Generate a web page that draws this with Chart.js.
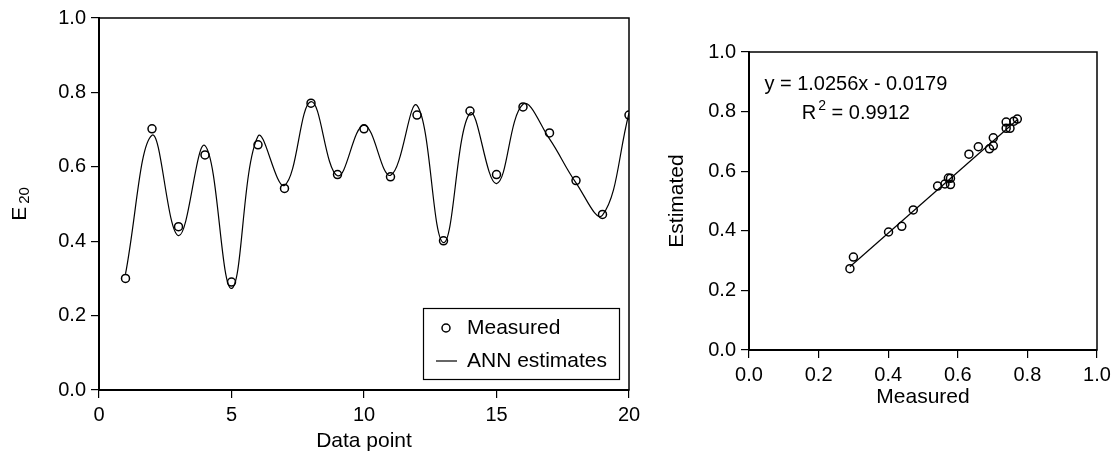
<!DOCTYPE html>
<html>
<head>
<meta charset="utf-8">
<script src="https://cdn.jsdelivr.net/npm/chart.js@4.4.1/dist/chart.umd.min.js"></script>
<style>
  body { margin: 0; background: #fff; }
  #wrap { position: relative; width: 1116px; height: 466px; }
  canvas { position: absolute; top: 0; }
</style>
</head>
<body>
<div id="wrap">
  <canvas id="series-chart" width="660" height="466" style="left:0"></canvas>
  <canvas id="scatter-chart" width="456" height="466" style="left:660px"></canvas>
</div>
<script>
// data
const dataPoints = [1, 2, 3, 4, 5, 6, 7, 8, 9, 10, 11, 12, 13, 14, 15, 16, 17, 18, 19, 20];
const measured = [0.300, 0.702, 0.439, 0.632, 0.290, 0.659, 0.542, 0.771, 0.579, 0.702,
                  0.573, 0.739, 0.401, 0.750, 0.579, 0.761, 0.691, 0.563, 0.472, 0.739];
const estimated = [0.312, 0.685, 0.415, 0.657, 0.273, 0.682, 0.550, 0.775, 0.576, 0.712,
                   0.577, 0.765, 0.396, 0.744, 0.555, 0.768, 0.675, 0.557, 0.470, 0.744];
const fitSlope = 1.0256;
const fitIntercept = -0.0179;
const fitText = 'y = 1.0256x - 0.0179';
const r2Text = '= 0.9912';
const seriesXTicks = [0, 5, 10, 15, 20];
const unitTicks = [0, 0.2, 0.4, 0.6, 0.8, 1.0];

Chart.defaults.font.family = '"Liberation Sans", Arial, sans-serif';
Chart.defaults.color = '#000';

const FONT = '"Liberation Sans", Arial, sans-serif';

const frame = {
  id: 'frame',
  afterDatasetsDraw(chart) {
    const { ctx, chartArea: a } = chart;
    ctx.save();
    ctx.strokeStyle = '#000';
    ctx.lineWidth = 1.5;
    ctx.strokeRect(a.left, a.top, a.right - a.left, a.bottom - a.top);
    ctx.restore();
  }
};

function axisOpts(ticks, fmt, fitFn, extra) {
  return Object.assign({
    type: 'linear',
    min: ticks[0],
    max: ticks[ticks.length - 1],
    afterBuildTicks: s => { s.ticks = ticks.map(v => ({ value: v })); },
    afterFit: fitFn,
    ticks: { font: { size: 20 }, padding: 5, maxRotation: 0, callback: fmt },
    grid: { drawOnChartArea: false, tickLength: 8, color: '#000', lineWidth: 1.2 },
    border: { color: '#000', width: 2 }
  }, extra);
}

// left chart extras: E20 axis title and legend box
const seriesExtras = {
  id: 'seriesExtras',
  afterDraw(chart) {
    const { ctx, chartArea: a } = chart;
    ctx.save();
    // y title
    ctx.translate(20, (a.top + a.bottom) / 2);
    ctx.rotate(-Math.PI / 2);
    ctx.fillStyle = '#000';
    ctx.textBaseline = 'middle';
    ctx.font = '21px ' + FONT;
    const w1 = ctx.measureText('E').width;
    ctx.font = '15px ' + FONT;
    const w2 = ctx.measureText('20').width;
    const x0 = -(w1 + 3 + w2) / 2;
    ctx.font = '21px ' + FONT;
    ctx.textAlign = 'left';
    ctx.fillText('E', x0, 0);
    ctx.font = '15px ' + FONT;
    ctx.fillText('20', x0 + w1 + 3, 5);
    ctx.restore();

    // legend
    const bw = 196, bh = 71;
    const bx = a.right - 10 - bw, by = a.bottom - 11 - bh;
    ctx.save();
    ctx.strokeStyle = '#000';
    ctx.lineWidth = 1.2;
    ctx.strokeRect(bx + 0.5, by + 0.5, bw, bh);
    ctx.lineWidth = 1.5;
    ctx.beginPath();
    ctx.arc(bx + 23, by + 20, 4, 0, Math.PI * 2);
    ctx.stroke();
    ctx.lineWidth = 1.2;
    ctx.beginPath();
    ctx.moveTo(bx + 13, by + 53);
    ctx.lineTo(bx + 34, by + 53);
    ctx.stroke();
    ctx.fillStyle = '#000';
    ctx.font = '21px ' + FONT;
    ctx.textBaseline = 'middle';
    ctx.textAlign = 'left';
    ctx.fillText('Measured', bx + 44, by + 20);
    ctx.fillText('ANN estimates', bx + 44, by + 53);
    ctx.restore();
  }
};

new Chart(document.getElementById('series-chart'), {
  type: 'scatter',
  data: {
    datasets: [
      {
        label: 'ANN estimates',
        data: dataPoints.map((x, i) => ({ x, y: estimated[i] })),
        showLine: true,
        tension: 0.4,
        borderColor: '#000',
        borderWidth: 1.2,
        pointRadius: 0,
        fill: false,
        order: 2
      },
      {
        label: 'Measured',
        data: dataPoints.map((x, i) => ({ x, y: measured[i] })),
        pointRadius: 4,
        pointBorderWidth: 1.5,
        borderColor: '#000',
        backgroundColor: 'rgba(0,0,0,0)',
        order: 1
      }
    ]
  },
  options: {
    responsive: false,
    animation: false,
    layout: { padding: { left: 0, right: 31, top: 18, bottom: 0 } },
    plugins: { legend: { display: false }, tooltip: { enabled: false } },
    scales: {
      x: axisOpts(seriesXTicks, v => String(v), s => { s.height = 76; }, {
        title: { display: true, text: 'Data point', font: { size: 21 }, padding: { top: 0, bottom: 12 } }
      }),
      y: axisOpts(unitTicks, v => v.toFixed(1), s => { s.width = 99; })
    }
  },
  plugins: [frame, seriesExtras]
});

// right chart: regression annotation
const fitNote = {
  id: 'fitNote',
  afterDraw(chart) {
    const { ctx, scales: { x, y } } = chart;
    const cx = x.getPixelForValue(0.307);
    ctx.save();
    ctx.fillStyle = '#000';
    ctx.textBaseline = 'middle';
    ctx.textAlign = 'center';
    ctx.font = '20px ' + FONT;
    ctx.fillText(fitText, cx, y.getPixelForValue(0.89));
    // R^2 line
    const ry = y.getPixelForValue(0.795);
    const wR = ctx.measureText('R').width;
    const wRest = ctx.measureText(' ' + r2Text).width;
    ctx.font = '14px ' + FONT;
    const w2 = ctx.measureText('2').width;
    const total = wR + 2 + w2 + wRest;
    let px = cx - total / 2;
    ctx.textAlign = 'left';
    ctx.font = '20px ' + FONT;
    ctx.fillText('R', px, ry);
    px += wR + 2;
    ctx.font = '14px ' + FONT;
    ctx.fillText('2', px, ry - 7);
    px += w2;
    ctx.font = '20px ' + FONT;
    ctx.fillText(' ' + r2Text, px, ry);
    ctx.restore();
  }
};

const mMin = Math.min(...measured);
const mMax = Math.max(...measured);

new Chart(document.getElementById('scatter-chart'), {
  type: 'scatter',
  data: {
    datasets: [
      {
        label: 'Fit',
        data: [
          { x: mMin, y: fitSlope * mMin + fitIntercept },
          { x: mMax, y: fitSlope * mMax + fitIntercept }
        ],
        showLine: true,
        borderColor: '#000',
        borderWidth: 1.2,
        pointRadius: 0,
        order: 2
      },
      {
        label: 'Measured vs estimated',
        data: measured.map((m, i) => ({ x: m, y: estimated[i] })),
        pointRadius: 4,
        pointBorderWidth: 1.5,
        borderColor: '#000',
        backgroundColor: 'rgba(0,0,0,0)',
        order: 1
      }
    ]
  },
  options: {
    responsive: false,
    animation: false,
    layout: { padding: { left: 0, right: 19, top: 52, bottom: 0 } },
    plugins: { legend: { display: false }, tooltip: { enabled: false } },
    scales: {
      x: axisOpts(unitTicks, v => v.toFixed(1), s => { s.height = 116; }, {
        title: { display: true, text: 'Measured', font: { size: 21 }, padding: { top: 0, bottom: 56 } }
      }),
      y: axisOpts(unitTicks, v => v.toFixed(1), s => { s.width = 89; }, {
        title: { display: true, text: 'Estimated', font: { size: 21 }, padding: { top: 5, bottom: 0 } }
      })
    }
  },
  plugins: [frame, fitNote]
});
</script>
</body>
</html>
